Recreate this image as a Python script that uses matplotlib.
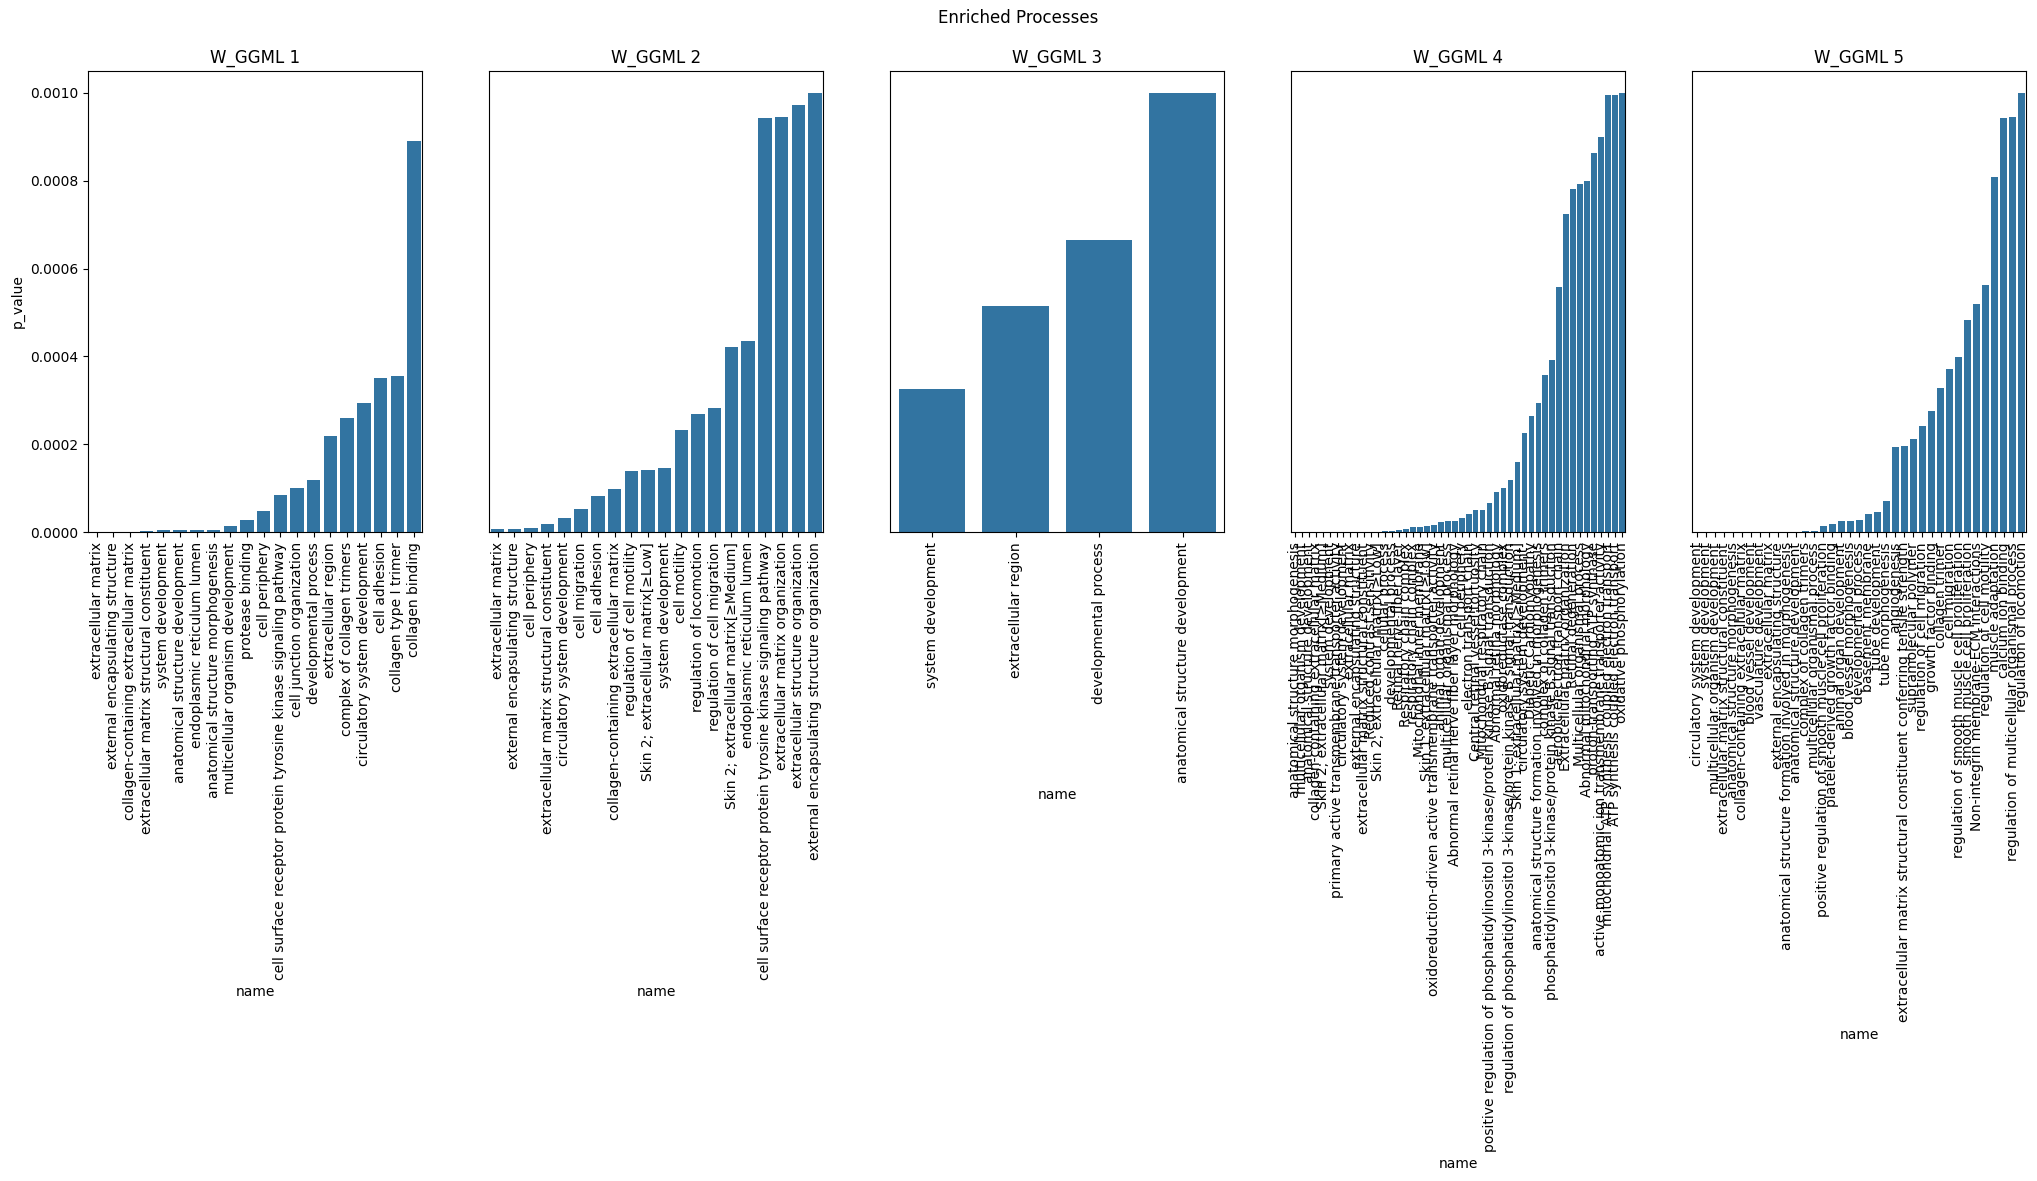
import matplotlib
matplotlib.use("Agg")
import matplotlib.pyplot as plt

titles = ["W_GGML 1", "W_GGML 2", "W_GGML 3", "W_GGML 4", "W_GGML 5"]

names1 = ["extracellular matrix", "external encapsulating structure",
          "collagen-containing extracellular matrix", "extracellular matrix structural constituent",
          "system development", "anatomical structure development", "endoplasmic reticulum lumen",
          "anatomical structure morphogenesis", "multicellular organism development", "protease binding",
          "cell periphery", "cell surface receptor protein tyrosine kinase signaling pathway",
          "cell junction organization", "developmental process", "extracellular region",
          "complex of collagen trimers", "circulatory system development", "cell adhesion",
          "collagen type I trimer", "collagen binding"]
p1 = [3e-7, 6e-7, 1.0e-6, 2.3e-6, 4.5e-6, 4.5e-6, 4.5e-6, 4.5e-6, 1.36e-5, 2.73e-5,
      4.77e-5, 8.4e-5, 1.0e-4, 1.2e-4, 2.18e-4, 2.61e-4, 2.95e-4, 3.52e-4, 3.545e-4, 8.91e-4]

names2 = ["extracellular matrix", "external encapsulating structure", "cell periphery",
          "extracellular matrix structural constituent", "circulatory system development",
          "cell migration", "cell adhesion", "collagen-containing extracellular matrix",
          "regulation of cell motility", "Skin 2; extracellular matrix[≥Low]", "system development",
          "cell motility", "regulation of locomotion", "regulation of cell migration",
          "Skin 2; extracellular matrix[≥Medium]", "endoplasmic reticulum lumen",
          "cell surface receptor protein tyrosine kinase signaling pathway",
          "extracellular matrix organization", "extracellular structure organization",
          "external encapsulating structure organization"]
p2 = [6.8e-6, 6.8e-6, 9.1e-6, 1.82e-5, 3.18e-5, 5.23e-5, 8.18e-5, 9.77e-5, 1.386e-4, 1.409e-4,
      1.455e-4, 2.318e-4, 2.682e-4, 2.818e-4, 4.205e-4, 4.341e-4, 9.432e-4, 9.455e-4, 9.727e-4, 1.0e-3]

names3 = ["system development", "extracellular region", "developmental process",
          "anatomical structure development"]
p3 = [3.26e-4, 5.15e-4, 6.64e-4, 1.0e-3]

names4 = ["anatomical structure morphogenesis", "multicellular organism development",
          "anatomical structure development", "collagen-containing extracellular matrix",
          "Skin 2; extracellular matrix[≥Medium]", "system development",
          "primary active transmembrane transporter activity", "circulatory system development",
          "extracellular matrix", "external encapsulating structure",
          "extracellular matrix structural constituent", "Reduced contrast sensitivity",
          "Skin 2; extracellular matrix[≥Low]", "cellular process", "developmental process",
          "Retinal nerve fiber layer", "Respiratory chain complex", "respiratory chain complex",
          "Mitochondrial inner membrane", "Skin 1; extracellular matrix[≥Low]",
          "oxidoreduction-driven active transmembrane transporter activity",
          "animal organ development", "multicellular organismal process",
          "Abnormal retinal nerve fiber layer morphology", "cell periphery",
          "electron transport chain", "Central retinal vessel tortuosity",
          "Mitochondrial respiratory chain",
          "positive regulation of phosphatidylinositol 3-kinase/protein kinase B signal transduction",
          "Abnormal retina morphology", "oxidoreductase complex",
          "regulation of phosphatidylinositol 3-kinase/protein kinase B signal transduction",
          "Skin 1; extracellular matrix[≥Medium]", "circulatory system development ",
          "Diabetic Cardiomyopathy", "anatomical structure formation involved in morphogenesis",
          "complex of collagen trimers",
          "phosphatidylinositol 3-kinase/protein kinase B signal transduction",
          "aerobic electron transport chain", "Extracellular matrix organization",
          "Retinal degeneration", "Multicellular organismal process",
          "Abnormal mitochondrial morphology", "proton-transporting ATP synthase",
          "active monoatomic ion transmembrane transporter activity",
          "mitochondrial ATP synthesis coupled electron transport",
          "ATP synthesis coupled electron transport", "oxidative phosphorylation"]
p4 = [1e-8, 2e-8, 4e-8, 8e-8, 1.2e-7, 1.6e-7, 2e-7, 3e-7, 4e-7, 5e-7, 6e-7, 8e-7, 1.0e-6,
      2.3e-6, 2.3e-6, 4.6e-6, 6.8e-6, 1.14e-5, 1.14e-5, 1.37e-5, 1.59e-5, 2.28e-5, 2.5e-5,
      2.5e-5, 3.19e-5, 4.1e-5, 5.01e-5, 5.01e-5, 6.6e-5, 9.11e-5, 1.002e-4, 1.185e-4,
      1.595e-4, 2.255e-4, 2.642e-4, 2.938e-4, 3.576e-4, 3.918e-4, 5.581e-4, 7.244e-4,
      7.813e-4, 7.927e-4, 7.995e-4, 8.633e-4, 8.998e-4, 9.954e-4, 9.954e-4, 1.0e-3]

names5 = ["circulatory system development", "system development",
          "multicellular organism development", "extracellular matrix structural constituent",
          "anatomical structure morphogenesis", "collagen-containing extracellular matrix",
          "blood vessel development", "vasculature development", "extracellular matrix",
          "external encapsulating structure",
          "anatomical structure formation involved in morphogenesis",
          "anatomical structure development", "complex of collagen trimers",
          "multicellular organismal process",
          "positive regulation of smooth muscle cell proliferation",
          "platelet-derived growth factor binding", "animal organ development",
          "blood vessel morphogenesis", "developmental process", "basement membrane",
          "tube development", "tube morphogenesis", "angiogenesis",
          "extracellular matrix structural constituent conferring tensile strength",
          "supramolecular polymer", "regulation of cell migration", "growth factor binding",
          "collagen trimer", "cell migration", "regulation of smooth muscle cell proliferation",
          "smooth muscle cell proliferation", "Non-integrin membrane-ECM interactions",
          "regulation of cell motility", "muscle adaptation", "calcium ion binding",
          "regulation of multicellular organismal process", "regulation of locomotion"]
p5 = [1e-8, 2e-8, 4e-8, 8e-8, 1.2e-7, 1.6e-7, 2e-7, 3e-7, 4e-7, 6e-7, 8e-7, 1.0e-6,
      2.3e-6, 2.3e-6, 1.37e-5, 1.82e-5, 2.5e-5, 2.5e-5, 2.73e-5, 4.1e-5, 4.56e-5, 7.06e-5,
      1.936e-4, 1.959e-4, 2.118e-4, 2.415e-4, 2.756e-4, 3.28e-4, 3.713e-4, 3.986e-4,
      4.829e-4, 5.194e-4, 5.626e-4, 8.087e-4, 9.43e-4, 9.45e-4, 1.0e-3]

all_names = [names1, names2, names3, names4, names5]
all_p = [p1, p2, p3, p4, p5]

W, H = 2037, 1181
fig = plt.figure(figsize=(W / 100, H / 100), dpi=100)
fig.suptitle("Enriched Processes", y=0.992, fontsize=12)

bar_color = "#3274a1"
left0 = 88.3
ax_w = 334.0
step = 401.0
top_px = 70.7
bot_px = 532.3

axes = []
for i in range(5):
    rect = [(left0 + i * step) / W, 1 - bot_px / H, ax_w / W, (bot_px - top_px) / H]
    if i == 0:
        ax = fig.add_axes(rect)
    else:
        ax = fig.add_axes(rect, sharey=axes[0])
    axes.append(ax)
    names = all_names[i]
    vals = all_p[i]
    xs = list(range(len(names)))
    ax.bar(xs, vals, width=0.8, color=bar_color)
    ax.set_xticks(xs)
    ax.set_xticklabels(names, rotation=90)
    ax.set_xlim(-0.5, len(names) - 0.5)
    ax.set_title(titles[i])
    ax.set_xlabel("name")
    if i == 0:
        ax.set_ylabel("p_value")
    else:
        ax.tick_params(axis="y", left=False, labelleft=False)

axes[0].set_ylim(0, 0.00105)

fig.savefig("out.png", dpi=100)
